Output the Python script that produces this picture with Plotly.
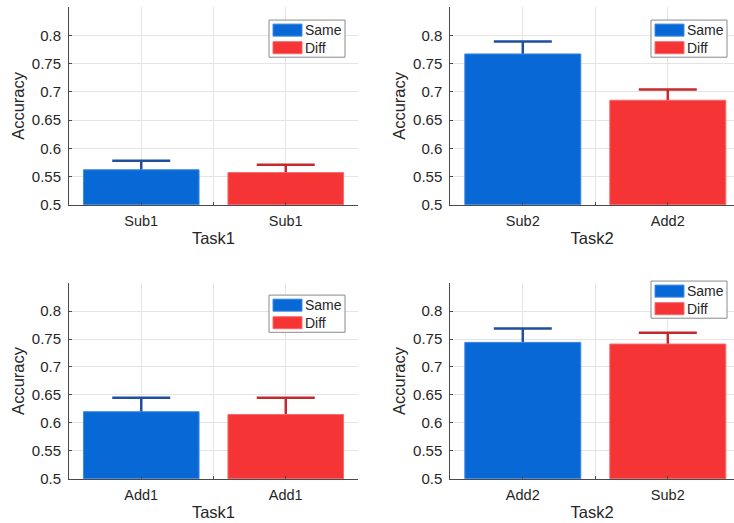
import plotly.graph_objects as go

# ---- data ----
series_names = ["Same", "Diff"]
tl_labels = ["Sub1", "Sub1"]
tl_values = [0.562, 0.557]
tl_errors = [0.016, 0.014]
tl_xtitle = "Task1"

tr_labels = ["Sub2", "Add2"]
tr_values = [0.767, 0.685]
tr_errors = [0.022, 0.019]
tr_xtitle = "Task2"

bl_labels = ["Add1", "Add1"]
bl_values = [0.620, 0.615]
bl_errors = [0.025, 0.030]
bl_xtitle = "Task1"

br_labels = ["Add2", "Sub2"]
br_values = [0.744, 0.741]
br_errors = [0.025, 0.020]
br_xtitle = "Task2"

y_tickvals = [0.5, 0.55, 0.6, 0.65, 0.7, 0.75, 0.8]
y_ticktext = ["0.5", "0.55", "0.6", "0.65", "0.7", "0.75", "0.8"]
y_title = "Accuracy"

# ---- styling ----
W, H = 734, 533
REF_H = 523
SY = H / REF_H
BAR_COLORS = ["#0868d6", "#f53535"]
BAR_EDGES = ["#3f8be0", "#f76a6a"]
ERR_COLORS = ["#1f4f9e", "#c42a2d"]
AXIS_COLOR = "#4a4a4a"
GRID_COLOR = "#e4e4e4"
FONT = "Liberation Sans, Arial, Helvetica, sans-serif"
TEXT_COLOR = "#262626"
HIDE = 0.004  # error bar starts slightly inside the bar so only the upper part shows


def px(x):
    return x / W


def py(y):
    return 1 - (y * SY) / H


panels = [
    (tl_labels, tl_values, tl_errors, tl_xtitle, (69, 358, 7, 204), [0.5, 2.5], (269, 20)),
    (tr_labels, tr_values, tr_errors, tr_xtitle, (450.3, 734, 7, 204), [0.5, 0.5 + (734 - 450.3) / 145.0], (651, 20)),
    (bl_labels, bl_values, bl_errors, bl_xtitle, (69, 358, 282, 477), [0.5, 2.5], (269, 294)),
    (br_labels, br_values, br_errors, br_xtitle, (450.3, 734, 282, 477), [0.5, 0.5 + (734 - 450.3) / 145.0], (651, 280)),
]

fig = go.Figure()
shapes = []
annotations = []

for i, (labels, values, errors, xtitle, (x0, x1, yt, yb), xr, (lx, ly)) in enumerate(panels):
    n = i + 1
    xa = "x" if n == 1 else f"x{n}"
    ya = "y" if n == 1 else f"y{n}"
    positions = list(range(1, len(labels) + 1))
    # error bars first (carried by transparent bars), so the visible bars hide their lower end
    for k in range(len(labels)):
        fig.add_trace(go.Bar(
            x=[positions[k]], y=[values[k] - HIDE], width=0.8,
            marker=dict(color="rgba(0,0,0,0)", line=dict(width=0)),
            error_y=dict(type="data", symmetric=False, array=[errors[k] + HIDE], arrayminus=[0],
                         color=ERR_COLORS[k], thickness=2.5, width=29),
            showlegend=False, hoverinfo="skip", xaxis=xa, yaxis=ya,
        ))
    for k in range(len(labels)):
        fig.add_trace(go.Bar(
            x=[positions[k]], y=[values[k]], width=0.8,
            marker=dict(color=BAR_COLORS[k], line=dict(color=BAR_EDGES[k], width=1)),
            name=series_names[k], showlegend=False,
            xaxis=xa, yaxis=ya,
        ))
    xkey = "xaxis" if n == 1 else f"xaxis{n}"
    ykey = "yaxis" if n == 1 else f"yaxis{n}"
    tickvals = [1, 1.5, 2, 2.5]
    ticktext = [labels[0], "", labels[1], ""]
    fig.update_layout(**{
        xkey: dict(
            domain=[px(x0), px(x1)], anchor=ya, range=xr,
            tickvals=tickvals, ticktext=ticktext,
            showgrid=True, gridcolor=GRID_COLOR, gridwidth=1,
            showline=True, linecolor=AXIS_COLOR, linewidth=1,
            ticks="inside", ticklen=3, tickcolor=AXIS_COLOR,
            ticklabelstandoff=3,
            tickfont=dict(size=14.5, color=TEXT_COLOR, family=FONT),
            title=dict(text=xtitle, font=dict(size=16.5, color=TEXT_COLOR, family=FONT), standoff=4),
            zeroline=False, fixedrange=True,
        ),
        ykey: dict(
            domain=[py(yb), py(yt)], anchor=xa, range=[0.5, 0.85],
            tickvals=y_tickvals, ticktext=y_ticktext,
            showgrid=True, gridcolor=GRID_COLOR, gridwidth=1,
            showline=True, linecolor=AXIS_COLOR, linewidth=1,
            ticks="inside", ticklen=3, tickcolor=AXIS_COLOR,
            ticklabelstandoff=4,
            tickfont=dict(size=15, color=TEXT_COLOR, family=FONT),
            title=dict(text=y_title, font=dict(size=16.5, color=TEXT_COLOR, family=FONT), standoff=3),
            zeroline=False, fixedrange=True,
        ),
    })
    # legend box (drawn like the MATLAB legend)
    bw, bh = 76, 37
    shapes.append(dict(type="rect", xref="paper", yref="paper",
                       x0=px(lx), x1=px(lx + bw), y0=py(ly + bh), y1=py(ly),
                       line=dict(color="#8a8a8a", width=1), fillcolor="white", layer="above"))
    for k in range(len(series_names)):
        sy0 = ly + 4 + k * 17.5
        shapes.append(dict(type="rect", xref="paper", yref="paper",
                           x0=px(lx + 4), x1=px(lx + 33), y0=py(sy0 + 12), y1=py(sy0),
                           line=dict(color=BAR_EDGES[k], width=1), fillcolor=BAR_COLORS[k], layer="above"))
        annotations.append(dict(xref="paper", yref="paper", x=px(lx + 34), y=py(sy0 + 6),
                                xanchor="left", yanchor="middle", showarrow=False,
                                text=series_names[k],
                                font=dict(size=14, color=TEXT_COLOR, family=FONT)))

fig.update_layout(
    width=W, height=H,
    margin=dict(l=0, r=0, t=0, b=0),
    paper_bgcolor="white", plot_bgcolor="white",
    barmode="overlay",
    showlegend=False,
    shapes=shapes, annotations=annotations,
    font=dict(family=FONT, color=TEXT_COLOR),
)

fig.write_html("out.html",
               config={"displayModeBar": False},
               post_script="document.body.style.margin='0';document.body.style.overflow='hidden';")
